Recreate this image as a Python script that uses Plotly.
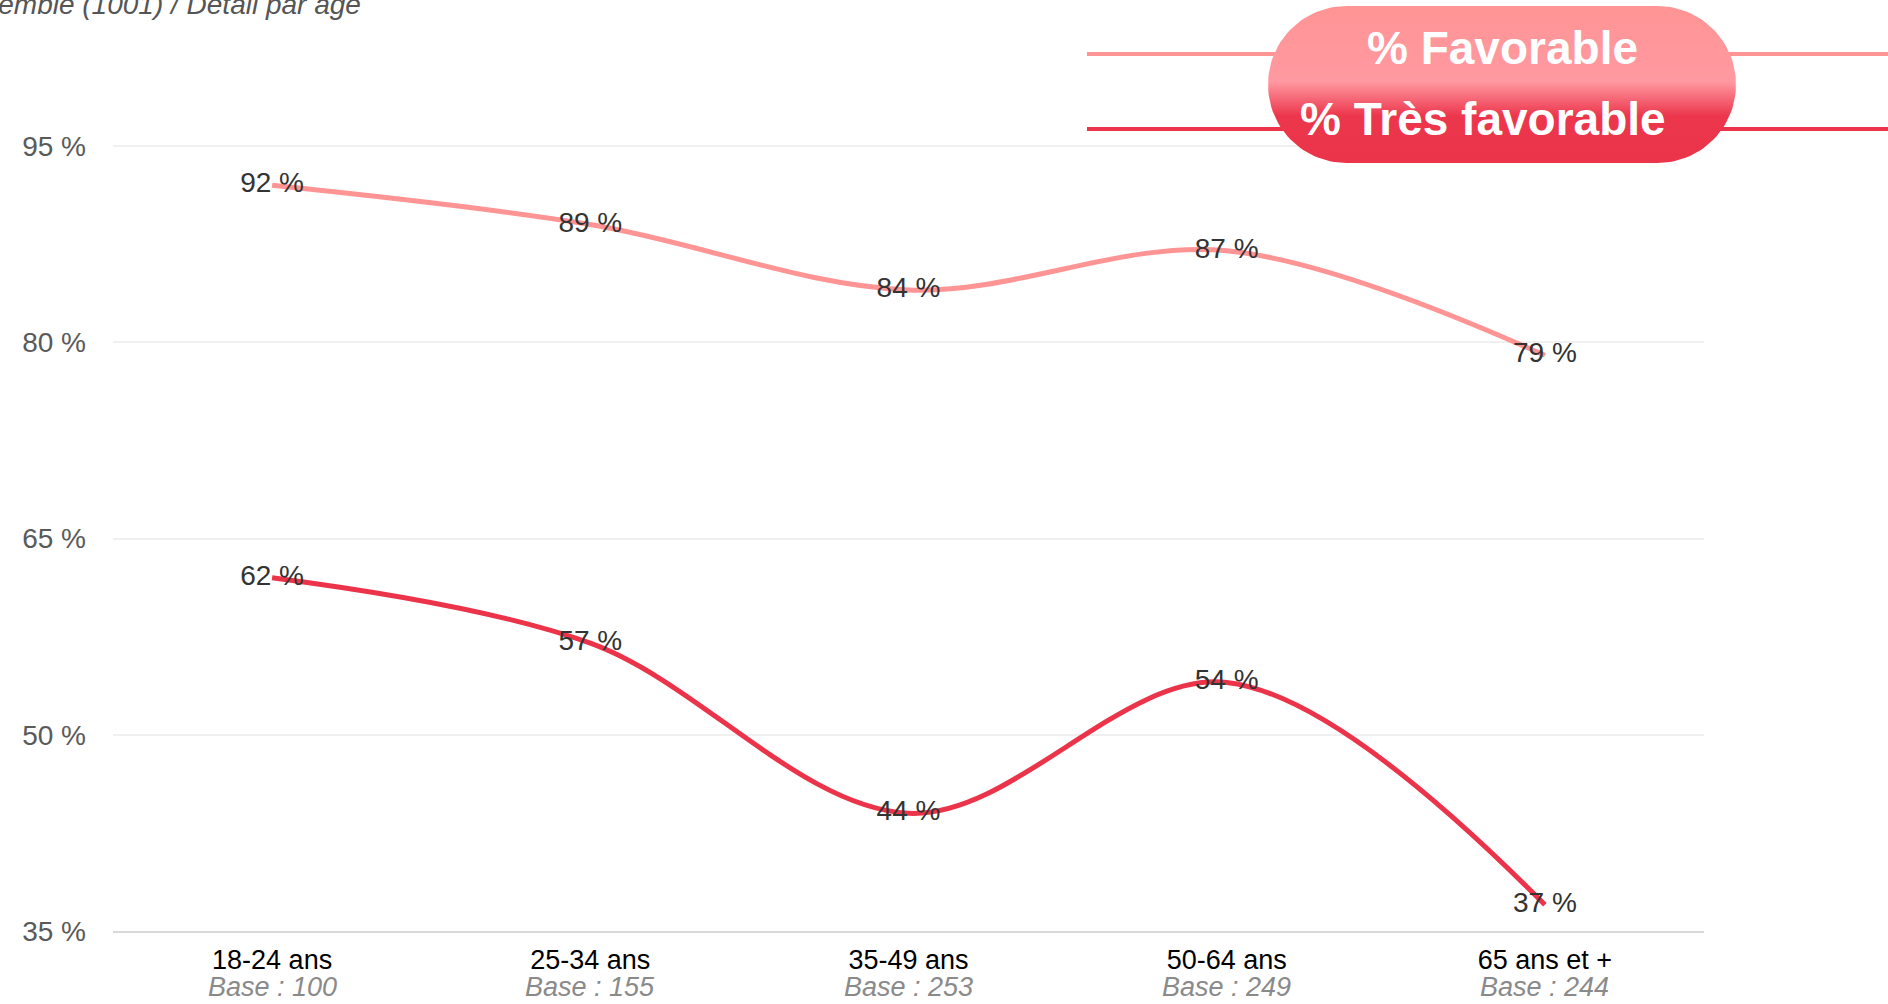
import numpy as np
import plotly.graph_objects as go

# Chart data
categories = ["18-24 ans", "25-34 ans", "35-49 ans", "50-64 ans", "65 ans et +"]
bases = [100, 155, 253, 249, 244]
favorable = [92, 89, 84, 87, 79]
tres_favorable = [62, 57, 44, 54, 37]
y_ticks = [35, 50, 65, 80, 95]
series_names = ["% Favorable", "% Très favorable"]
series_colors = ["#FF9494", "#EB344A"]
subtitle = "Ensemble (1001) / Détail par âge"

# Page geometry (pixels)
W, H = 1888, 1004
PLOT_L, PLOT_R, PLOT_T, PLOT_B = 113, 1704, 80.6, 931
Y_MIN, Y_MAX = 35, 100

# Legend capsule geometry (pixels)
PILL_L, PILL_R, PILL_T, PILL_B = 1268, 1736, 6, 163
LEG_LINE_X0 = 1087
LEG_LINE_Y = [54, 129]
LEG_TEXT_POS = [(1502, 48.5), (1483, 118.5)]

FONT = "Liberation Sans, Arial, Helvetica, sans-serif"


def fx(px):
    return px / W


def fy(py):
    return 1 - py / H


fig = go.Figure()

for name, values, color in zip(series_names, [favorable, tres_favorable], series_colors):
    fig.add_trace(go.Scatter(
        x=list(range(len(categories))),
        y=values,
        name=name,
        mode="lines+text",
        line=dict(color=color, width=5, shape="spline", smoothing=1),
        text=[f"{v} %" for v in values],
        textposition="middle center",
        textfont=dict(family=FONT, size=28, color="#333333"),
        cliponaxis=False,
        hoverinfo="skip",
        showlegend=False,
    ))

# Capsule-shaped legend background with a vertical gradient
pw, ph = PILL_R - PILL_L, PILL_B - PILL_T
r = ph / 2
t_left = np.linspace(np.pi / 2, 3 * np.pi / 2, 60)
t_right = np.linspace(-np.pi / 2, np.pi / 2, 60)
pill_x = np.concatenate([r + r * np.cos(t_left), (pw - r) + r * np.cos(t_right)])
pill_y = np.concatenate([r + r * np.sin(t_left), r + r * np.sin(t_right)])
pill_x = np.append(pill_x, pill_x[0])
pill_y = np.append(pill_y, pill_y[0])

fig.add_trace(go.Scatter(
    x=pill_x, y=pill_y,
    xaxis="x2", yaxis="y2",
    mode="lines",
    fill="toself",
    line=dict(width=0, color="rgba(0,0,0,0)"),
    fillgradient=dict(
        type="vertical",
        colorscale=[[0, "#EB344A"], [0.30, "#EC364C"], [0.52, "#FF99A1"], [1, "#FF9494"]],
    ),
    hoverinfo="skip",
    showlegend=False,
))

shapes = [
    dict(type="line", xref="paper", yref="paper",
         x0=fx(LEG_LINE_X0), x1=1.0, y0=fy(ly), y1=fy(ly),
         line=dict(color=c, width=4), layer="below")
    for ly, c in zip(LEG_LINE_Y, series_colors)
]

annotations = [
    dict(text=subtitle, xref="paper", yref="paper", x=fx(363), y=fy(5),
         xanchor="right", yanchor="middle", showarrow=False,
         font=dict(family=FONT, size=28, color="#555555", style="italic")),
]
# Sample size under each age group
for i, b in enumerate(bases):
    annotations.append(dict(
        text=f"Base : {b}", xref="x", yref="paper", x=i, y=0,
        xanchor="center", yanchor="bottom", showarrow=False,
        font=dict(family=FONT, size=27, color="#8a8a8a", style="italic"),
    ))
for name, (tx, ty) in zip(series_names, LEG_TEXT_POS):
    annotations.append(dict(
        text=name, xref="paper", yref="paper", x=fx(tx), y=fy(ty),
        xanchor="center", yanchor="middle", showarrow=False,
        font=dict(family=FONT, size=46, color="white", weight="bold"),
    ))

fig.update_layout(
    width=W, height=H,
    margin=dict(l=0, r=0, t=0, b=0, autoexpand=False),
    paper_bgcolor="white",
    plot_bgcolor="rgba(0,0,0,0)",
    font=dict(family=FONT),
    showlegend=False,
    xaxis=dict(
        domain=[fx(PLOT_L), fx(PLOT_R)],
        range=[-0.5, len(categories) - 0.5],
        tickmode="array",
        tickvals=list(range(len(categories))),
        ticktext=categories,
        tickfont=dict(family=FONT, size=27, color="#000000"),
        showgrid=False,
        zeroline=False,
        showline=True,
        linecolor="#d8d8d8",
        linewidth=2,
        ticks="",
        ticklabelstandoff=4,
        automargin=False,
        fixedrange=True,
    ),
    yaxis=dict(
        domain=[fy(PLOT_B), fy(PLOT_T)],
        range=[Y_MIN, Y_MAX],
        tickmode="array",
        tickvals=y_ticks,
        ticktext=[f"{v} %" for v in y_ticks],
        tickfont=dict(family=FONT, size=28, color="#5a5a5a"),
        showgrid=True,
        gridcolor="#f0f0f0",
        gridwidth=2,
        zeroline=False,
        showline=False,
        ticks="",
        ticklabelstandoff=26,
        automargin=False,
        fixedrange=True,
    ),
    xaxis2=dict(
        domain=[fx(PILL_L), fx(PILL_R)],
        range=[0, pw], visible=False, anchor="y2", fixedrange=True,
    ),
    yaxis2=dict(
        domain=[fy(PILL_B), fy(PILL_T)],
        range=[0, ph], visible=False, anchor="x2", fixedrange=True,
    ),
    shapes=shapes,
    annotations=annotations,
)

fig.write_html("out.html")
